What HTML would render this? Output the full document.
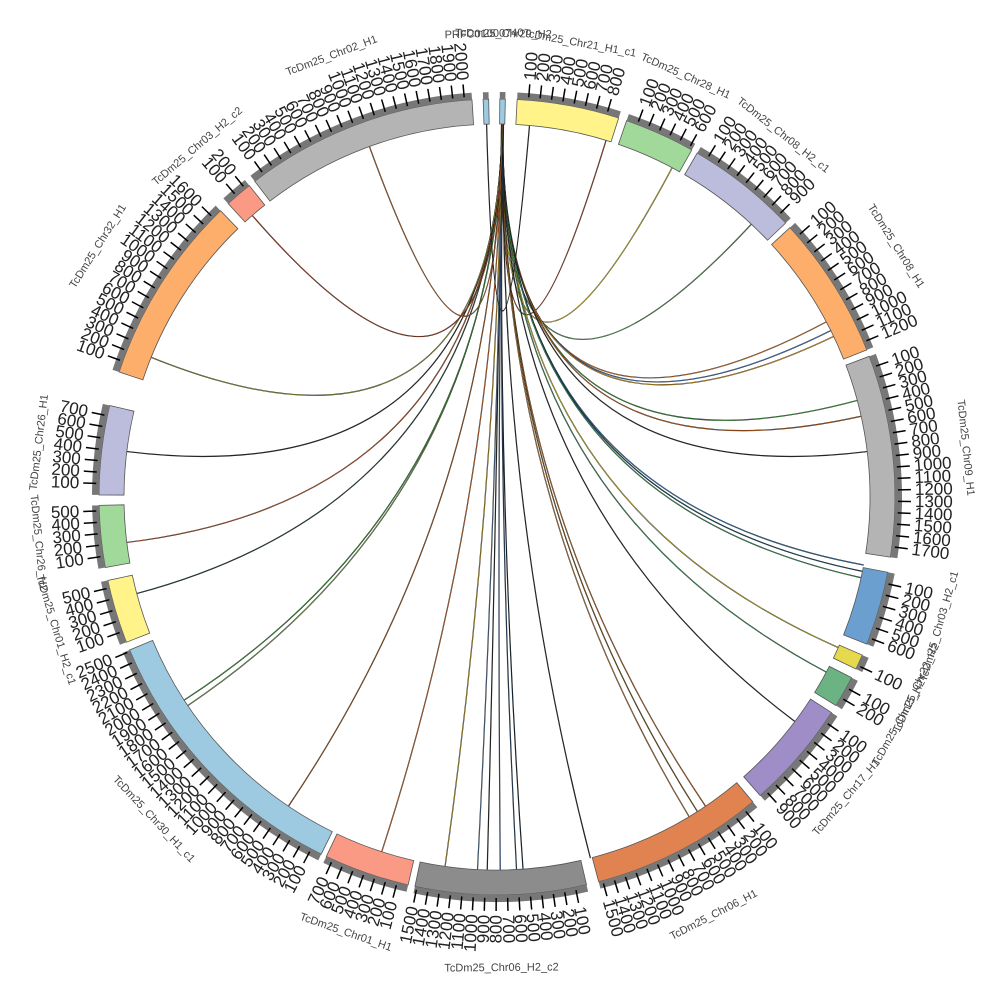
<!DOCTYPE html>
<html><head><meta charset="utf-8"><style>html,body{margin:0;padding:0;background:#fff}svg{display:block}</style></head>
<body>
<svg id="s" width="1000" height="1000" xmlns="http://www.w3.org/2000/svg" font-family="Liberation Sans, sans-serif"></svg>
<script>
var cx=497,cy=497,R1=373,R2=398;
var segs=[
["PRFC01000740",-2.0,-1.2,"#9ecae1",null],
["TcDm25_Chr29_H2",0.4,1.2,"#9ecae1",null],
["TcDm25_Chr21_H1_c1",2.9,17.8,"#fff38a",9],
["TcDm25_Chr28_H1",19.0,29.3,"#a1d99b",5],
["TcDm25_Chr08_H2_c1",30.2,46.5,"#bcbddc",9],
["TcDm25_Chr08_H1",47.4,68.3,"#fdae6b",12],
["TcDm25_Chr09_H1",69.3,98.7,"#b4b4b4",18],
["TcDm25_Chr03_H2_c1",100.9,111.7,"#6a9fd0",6],
["TcDm25_Chr22_H2",113.4,115.6,"#e7d94d",1],
["TcDm25_Chr15_H2",117.0,121.6,"#6cb383",2],
["TcDm25_Chr17_H1",122.8,138.6,"#9e8dc6",9],
["TcDm25_Chr06_H1",140.0,165.2,"#e08350",15],
["TcDm25_Chr06_H2_c2",167.0,191.9,"#8c8c8c",15],
["TcDm25_Chr01_H1",192.9,205.4,"#fa9a85",7],
["TcDm25_Chr30_H1_c1",206.2,247.4,"#9ecae1",24],
["TcDm25_Chr01_H2_c1",248.6,257.9,"#fff38a",5],
["TcDm25_Chr26_H2",259.8,268.8,"#a1d99b",5],
["TcDm25_Chr26_H1",270.3,283.3,"#bcbddc",7],
["TcDm25_Chr32_H1",288.3,316.0,"#fdae6b",17],
["TcDm25_Chr03_H2_c2",317.5,321.5,"#fa9a85",2],
["TcDm25_Chr02_H1",322.5,356.4,"#b4b4b4",20]];
function P(a,r){var t=a*Math.PI/180;return [cx+r*Math.sin(t),cy-r*Math.cos(t)];}
function arc(a1,a2,r1,r2){var p1=P(a1,r2),p2=P(a2,r2),p3=P(a2,r1),p4=P(a1,r1),l=(a2-a1)>180?1:0;
return "M"+p1+"A"+r2+","+r2+" 0 "+l+" 1 "+p2+"L"+p3+"A"+r1+","+r1+" 0 "+l+" 0 "+p4+"Z";}
var h="";
var links=[[0.8,17,"#b05030"],[0.8,28,"#d8c830"],[0.7,43,"#60a060"],[0.8,62,"#e08030"],[0.9,63.5,"#5080c0"],[0.8,64.5,"#e0a030"],
[0.8,75,"#40a040"],[0.9,77.5,"#e07020"],[0.8,83,"#333"],[0.8,100.5,"#4080c0"],[0.9,101.5,"#205070"],[0.8,102.5,"#40a060"],[0.8,113.8,"#d0c030"],
[0.8,118,"#4a9a60"],[0.8,127,"#333"],[0.8,146,"#c07030"],[0.9,147.5,"#806020"],[0.8,149,"#c08040"],[0.8,176,"#203040"],[0.9,177,"#305070"],
[0.8,179.5,"#4060a0"],[0.7,181.5,"#303030"],[0.8,183,"#6080a0"],[0.8,188,"#c0a030"],[0.8,198,"#d07030"],[0.8,214,"#b06020"],[0.8,236,"#80a060"],[0.9,237,"#40a040"],
[0.8,255,"#305040"],[0.8,263,"#c06030"],[0.8,277,"#333"],[0.8,292,"#a0a040"],[0.8,319,"#b05030"],[0.8,340,"#c07030"],[-1.6,5,"#333"],[1.0,165.5,"#333"]];
links.forEach(function(l){var a=P(l[0],R1),b=P(l[1],R1);
h+='<path d="M'+a+"Q"+cx+","+cy+" "+b+'" fill="none" stroke="#111" stroke-width="1.2"/>';
h+='<path d="M'+a+"Q"+cx+","+cy+" "+b+'" fill="none" stroke="'+l[2]+'" stroke-width="0.6"/>';});
segs.forEach(function(s){
h+='<path d="'+arc(s[1],s[2],R1,R2)+'" fill="'+s[3]+'" stroke="#555" stroke-width="0.8"/>';
h+='<path d="'+arc(s[1],s[2],R2,R2+7)+'" fill="#777"/>';
var step=1.64;
for(var a=s[1]+step,i=1;a<s[2]-0.2;a+=step,i++){
var p=P(a,R2+3),q=P(a,R2+16);
h+='<line x1="'+p[0]+'" y1="'+p[1]+'" x2="'+q[0]+'" y2="'+q[1]+'" stroke="#000" stroke-width="1.5"/>';
var t=P(a,R2+20),right=(a%360+360)%360<180;
var rot=right?a-90:a+90;
h+='<text x="'+t[0]+'" y="'+t[1]+'" font-size="17" fill="#222" dominant-baseline="central" text-anchor="'+(right?"start":"end")+'" transform="rotate('+rot+" "+t[0]+","+t[1]+')">'+(i*100)+'</text>';}
var m=(s[1]+s[2])/2,r=s[4]===null?463:(R2+25+String(s[4]*100).length*10+8);
var t=P(m,r),n=(m%360+360)%360,rot=(n>90&&n<270)?m-180:m;
h+='<text x="'+t[0]+'" y="'+t[1]+'" font-size="11" fill="#444" text-anchor="middle" dominant-baseline="central" transform="rotate('+rot+" "+t[0]+","+t[1]+')">'+s[0]+'</text>';
});
document.getElementById("s").innerHTML=h;
</script>
</body></html>
